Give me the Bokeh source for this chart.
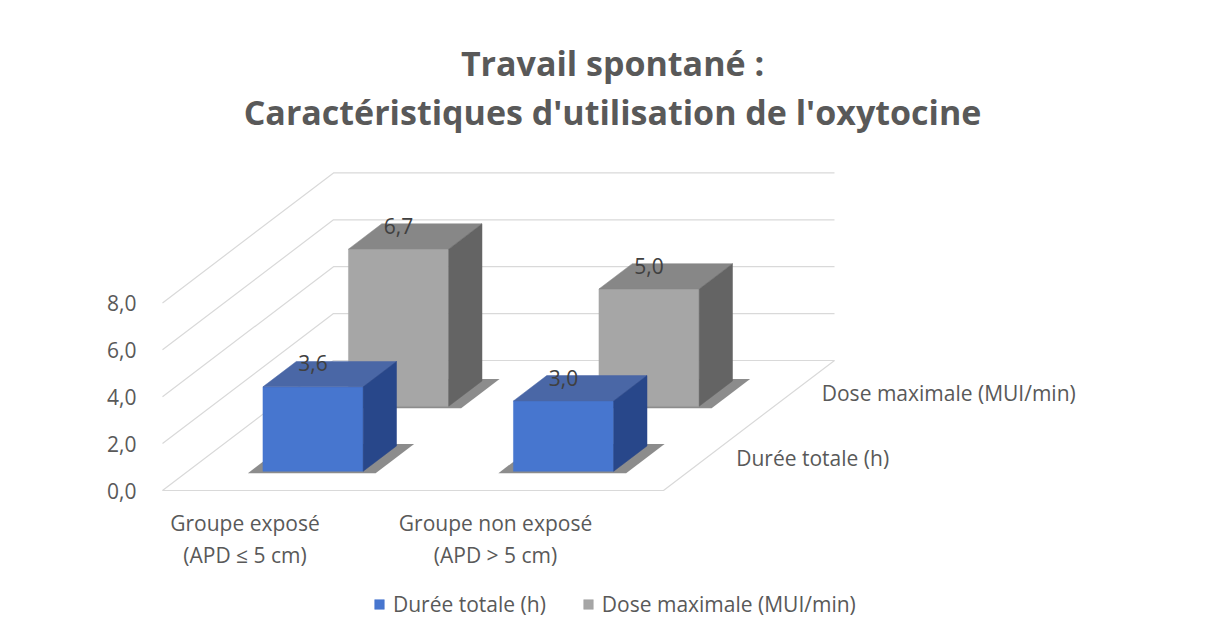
from bokeh.plotting import figure
from bokeh.models import Range1d, FixedTicker, CustomJSTickFormatter, Legend, LegendItem
from bokeh.core.properties import value
from bokeh.embed import file_html
from bokeh.resources import INLINE

# ---------------- data ----------------
title_lines = ["Travail spontané :", "Caractéristiques d'utilisation de l'oxytocine"]
cat_line1 = ["Groupe exposé", "Groupe non exposé"]
cat_line2 = ["(APD ≤ 5 cm)", "(APD > 5 cm)"]
series_names = ["Durée totale (h)", "Dose maximale (MUI/min)"]
duree_totale = [3.6, 3.0]
dose_maximale = [6.7, 5.0]
y_ticks = [0, 2, 4, 6, 8]

# ---------------- styles / geometry ----------------
FONT = "Open Sans"
TXT = "#595959"
GRID = "#d9d9d9"
W, H = 1200, 630
LEFT = 148
PAGE = 0
# page-pixel geometry of the 3D box (front-left floor corner, scales, depth offset)
FX0, FY0 = 162.0, 490.0
CAT_PX, VAL_PX = 250.5, 23.45
DEPTH_DX, DEPTH_DY = 171.0, 130.0
KX, KY = DEPTH_DX / CAT_PX, DEPTH_DY / VAL_PX
N_CAT = len(cat_line1)
BAR_X0, BAR_X1 = 0.3, 0.7
Z_START, BAR_DEPTH, BAND = 0.148, 0.195, 0.5

face_colors = [
    dict(front="#4776cf", top="#4a67a6", side="#28478a"),
    dict(front="#a6a6a6", top="#878787", side="#646464"),
]


def proj(c, v, z):
    return c + z * KX, v + z * KY


def px_x(X):
    return (X - FX0) / CAT_PX


def px_y(Y):
    return (FY0 - Y) / VAL_PX


x_start = px_x(PAGE + LEFT)
x_end = px_x(PAGE + W)
y_start = px_y(PAGE + H)
y_end = px_y(PAGE)

p = figure(width=W, height=H, output_backend="svg", toolbar_location=None,
           x_range=Range1d(x_start, x_end), y_range=Range1d(y_start, y_end),
           min_border_left=LEFT, min_border_right=0, min_border_top=0, min_border_bottom=0,
           x_axis_location=None)
p.grid.visible = False
p.outline_line_color = None
p.background_fill_color = "white"
p.border_fill_color = "white"

ax = p.yaxis[0]
ax.ticker = FixedTicker(ticks=y_ticks)
ax.formatter = CustomJSTickFormatter(code="return tick.toFixed(1).replace('.', ',');")
ax.axis_line_color = None
ax.major_tick_line_color = None
ax.minor_tick_line_color = None
ax.major_label_text_font = FONT
ax.major_label_text_font_size = "21px"
ax.major_label_text_color = TXT
ax.major_label_standoff = 6

# ---------------- walls / floor ----------------
wall_xs, wall_ys = [], []
for t in y_ticks:
    a = proj(0, t, 0); b = proj(0, t, 1); c = proj(N_CAT, t, 1)
    wall_xs.append([a[0], b[0], c[0]]); wall_ys.append([a[1], b[1], c[1]])
f0 = proj(0, 0, 0); f1 = proj(N_CAT, 0, 0); f2 = proj(N_CAT, 0, 1)
wall_xs.append([f0[0], f1[0], f2[0]]); wall_ys.append([f0[1], f1[1], f2[1]])
p.multi_line(wall_xs, wall_ys, line_color=GRID, line_width=1.2)

# ---------------- bars ----------------
series_values = [duree_totale, dose_maximale]
front_renderers = {}
for s in [1, 0]:  # back series first
    vals = series_values[s]
    z0 = Z_START + s * BAND
    z1 = z0 + BAR_DEPTH
    sh_x, sh_y, fr_x, fr_y, tp_x, tp_y, sd_x, sd_y = [], [], [], [], [], [], [], []
    lab_x, lab_y, lab_t = [], [], []
    for i, v in enumerate(vals):
        x0, x1 = i + BAR_X0, i + BAR_X1
        sh = [proj(x0 - 0.05, 0, z0 - 0.015), proj(x1 + 0.06, 0, z0 - 0.015),
              proj(x1 + 0.06, 0, z1 + 0.015), proj(x0 - 0.05, 0, z1 + 0.015)]
        fr = [proj(x0, 0, z0), proj(x1, 0, z0), proj(x1, v, z0), proj(x0, v, z0)]
        tp = [proj(x0, v, z0), proj(x1, v, z0), proj(x1, v, z1), proj(x0, v, z1)]
        sd = [proj(x1, 0, z0), proj(x1, 0, z1), proj(x1, v, z1), proj(x1, v, z0)]
        for pts, XS, YS in ((sh, sh_x, sh_y), (fr, fr_x, fr_y), (tp, tp_x, tp_y), (sd, sd_x, sd_y)):
            XS.append([q[0] for q in pts]); YS.append([q[1] for q in pts])
        xc = (x0 + x1) / 2
        lab_x.append(proj(xc, v, z0)[0])
        lab_y.append(proj(xc, v, z1)[1])
        lab_t.append(f"{v:.1f}".replace(".", ","))
    col = face_colors[s]
    p.patches(sh_x, sh_y, fill_color="#1a1a1a", fill_alpha=0.5, line_color=None)
    fr_r = p.patches(fr_x, fr_y, fill_color=col["front"], line_color=col["front"], line_width=0.5)
    p.patches(tp_x, tp_y, fill_color=col["top"], line_color=col["top"], line_width=0.5)
    p.patches(sd_x, sd_y, fill_color=col["side"], line_color=col["side"], line_width=0.5)
    front_renderers[s] = fr_r
    p.text(lab_x, lab_y, text=lab_t, text_font=value(FONT), text_font_size="21px",
           text_color="#404040", text_align="center", text_baseline="middle", y_offset=2)

# ---------------- category labels ----------------
cx, cy = [], []
for i in range(N_CAT):
    q = proj(i + 0.5, 0, -0.25)
    cx.append(q[0]); cy.append(q[1])
p.text(cx, cy, text=cat_line1, text_font=value(FONT), text_font_size="21px",
       text_color=TXT, text_align="center", text_baseline="middle")
p.text(cx, cy, text=cat_line2, text_font=value(FONT), text_font_size="21px",
       text_color=TXT, text_align="center", text_baseline="middle", y_offset=32)

# ---------------- depth (series) labels ----------------
dx_, dy_ = [], []
for s in range(len(series_names)):
    q = proj(N_CAT, 0, s * BAND + BAND / 2)
    dx_.append(q[0]); dy_.append(q[1])
p.text(dx_, dy_, text=series_names, text_font=value(FONT), text_font_size="21px",
       text_color=TXT, text_align="left", text_baseline="middle", x_offset=30)

# ---------------- title ----------------
p.text([px_x(612)] * 2, [px_y(62), px_y(111)], text=title_lines, text_font=value(FONT),
       text_font_size="34px", text_font_style="bold", text_color=TXT,
       text_align="center", text_baseline="middle")

# ---------------- legend ----------------
legend = Legend(items=[LegendItem(label=series_names[0], renderers=[front_renderers[0]]),
                       LegendItem(label=series_names[1], renderers=[front_renderers[1]])],
                orientation="horizontal", location=(373 - LEFT, 12),
                glyph_width=12, glyph_height=12, label_standoff=8, spacing=36,
                padding=0, margin=0, border_line_color=None, background_fill_alpha=0,
                label_text_font=FONT, label_text_font_size="21px", label_text_color=TXT)
p.add_layout(legend)

open("out.html", "w").write(file_html(p, INLINE))
